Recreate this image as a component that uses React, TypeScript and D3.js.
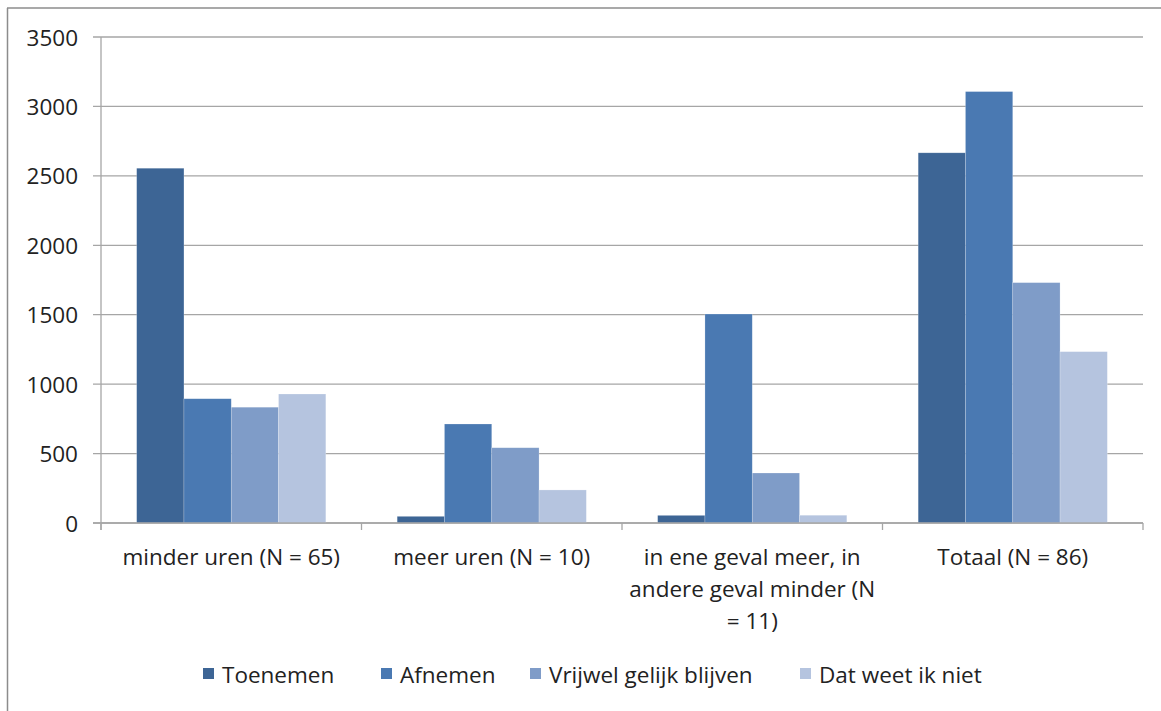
import React from 'react';
import * as d3 from 'd3';

const categories = [
  'minder uren (N = 65)',
  'meer uren (N = 10)',
  'in ene geval meer, in andere geval minder (N = 11)',
  'Totaal (N = 86)',
];
const categoryLines = [
  ['minder uren (N = 65)'],
  ['meer uren (N = 10)'],
  ['in ene geval meer, in', 'andere geval minder (N', '= 11)'],
  ['Totaal (N = 86)'],
];
const seriesNames = ['Toenemen', 'Afnemen', 'Vrijwel gelijk blijven', 'Dat weet ik niet'];
const toenemen = [2555, 48, 55, 2666];
const afnemen = [895, 713, 1505, 3107];
const vrijwel = [834, 542, 360, 1731];
const datWeet = [929, 238, 56, 1234];
const yTicks = [0, 500, 1000, 1500, 2000, 2500, 3000, 3500];

const colors = ['#3d6595', '#4a79b2', '#7f9cc8', '#b5c4df'];
const FONT = '"Open Sans", sans-serif';

const App = () => {
  const width = 1161;
  const height = 711;
  const left = 101;
  const right = 1143;
  const top = 37;
  const bottom = 523;

  const seriesValues = [toenemen, afnemen, vrijwel, datWeet];

  const x0 = d3.scaleBand().domain(categories).range([left, right]).padding(0);
  const x1 = d3
    .scaleBand()
    .domain(seriesNames)
    .range([0, x0.bandwidth()])
    .paddingInner(0)
    .paddingOuter(0.754);
  const y = d3.scaleLinear().domain([0, 3500]).range([bottom, top]);

  const boundaries = categories.map((c) => x0(c)).concat([right]);

  const legendX = [203, 381, 530, 800];

  return (
    <svg
      width={width}
      height={height}
      style={{ position: 'absolute', left: 0, top: 0, background: '#fff' }}
      fontFamily={FONT}
    >
      <rect x={0} y={0} width={width} height={height} fill="#fff" />
      {/* outer frame */}
      <line x1={7.5} y1={8} x2={7.5} y2={height} stroke="#8c8c8c" strokeWidth={1.5} />
      <line x1={7} y1={8} x2={width} y2={8} stroke="#8c8c8c" strokeWidth={1.5} />

      {/* gridlines + y ticks */}
      {yTicks.map((t) => (
        <g key={t}>
          <line x1={93} x2={right} y1={y(t)} y2={y(t)} stroke="#a6a6a6" strokeWidth={1.3} />
          <text
            x={78}
            y={y(t)}
            textAnchor="end"
            dominantBaseline="central"
            fontSize={22.5}
            fill="#222"
          >
            {t}
          </text>
        </g>
      ))}
      <line x1={left} x2={left} y1={top} y2={bottom + 7} stroke="#a6a6a6" strokeWidth={1.3} />

      {/* bars */}
      {categories.map((c, ci) => (
        <g key={c} transform={`translate(${x0(c)},0)`}>
          {seriesNames.map((s, si) => {
            const v = seriesValues[si][ci];
            return (
              <rect
                key={s}
                x={x1(s)}
                y={y(v)}
                width={x1.bandwidth()}
                height={bottom - y(v)}
                fill={colors[si]}
                stroke="#ffffff"
                strokeOpacity={0.35}
                strokeWidth={0.6}
              />
            );
          })}
        </g>
      ))}

      {/* x axis */}
      <line x1={93} x2={right} y1={bottom} y2={bottom} stroke="#a6a6a6" strokeWidth={1.3} />
      {boundaries.map((b, i) => (
        <line key={i} x1={b} x2={b} y1={bottom} y2={bottom + 7} stroke="#a6a6a6" strokeWidth={1.3} />
      ))}
      {categories.map((c, ci) => (
        <text
          key={c}
          x={(x0(c) as number) + x0.bandwidth() / 2}
          textAnchor="middle"
          fontSize={22.5}
          fill="#222"
        >
          {categoryLines[ci].map((line, li) => (
            <tspan key={li} x={(x0(c) as number) + x0.bandwidth() / 2} y={565 + li * 32}>
              {line}
            </tspan>
          ))}
        </text>
      ))}

      {/* legend */}
      {seriesNames.map((s, si) => (
        <g key={s}>
          <rect x={legendX[si]} y={668} width={11} height={11} fill={colors[si]} />
          <text x={legendX[si] + 19} y={674} dominantBaseline="central" fontSize={22.5} fill="#222">
            {s}
          </text>
        </g>
      ))}
    </svg>
  );
};

export default App;
